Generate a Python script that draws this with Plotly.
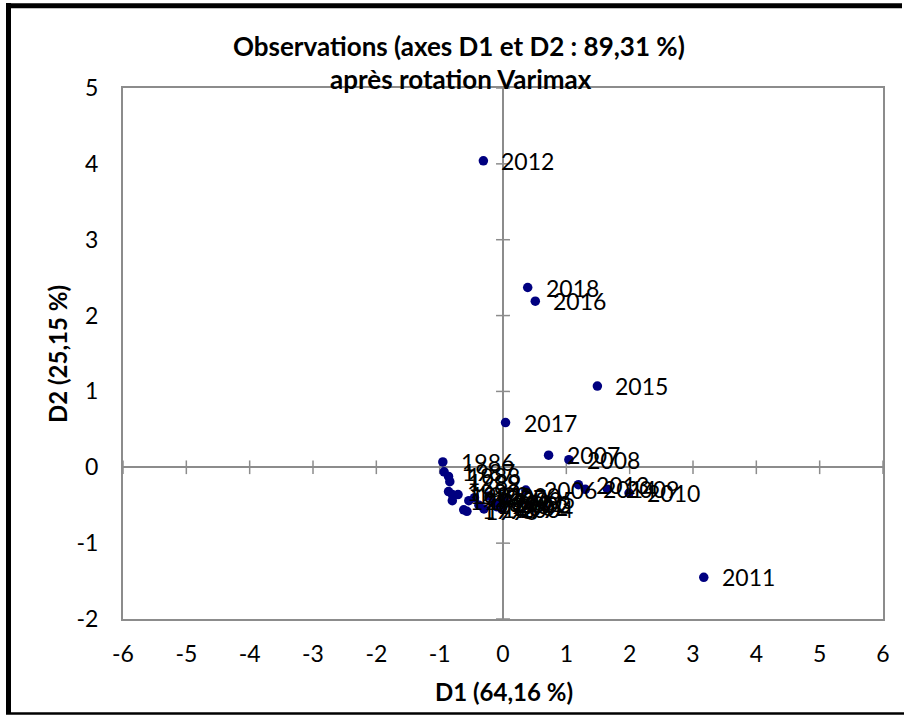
import plotly.graph_objects as go

# ---- data ----
years = [1986, 1987, 1988, 1989, 1990, 1991, 1992, 1993, 1994, 1995,
         1996, 1997, 1998, 1999, 2000, 2001, 2002, 2003, 2004, 2005,
         2006, 2007, 2008, 2009, 2010, 2011, 2012, 2013, 2014, 2015,
         2016, 2017, 2018]
d1 = [-0.95, -0.93, -0.86, -0.84, -0.86, -0.80, -0.71, -0.80, -0.54, -0.62,
      -0.57, -0.45, -0.38, -0.30, -0.22, -0.15, -0.10, -0.05, -0.02, 0.02,
      0.36, 0.72, 1.04, 1.65, 1.99, 3.17, -0.31, 1.19, 1.30, 1.49,
      0.51, 0.04, 0.39]
d2 = [0.07, -0.06, -0.12, -0.19, -0.32, -0.36, -0.36, -0.44, -0.44, -0.56,
      -0.58, -0.40, -0.50, -0.55, -0.38, -0.47, -0.52, -0.48, -0.55, -0.43,
      -0.30, 0.16, 0.10, -0.29, -0.34, -1.45, 4.04, -0.23, -0.29, 1.07,
      2.19, 0.59, 2.37]

x_ticks = [-6, -5, -4, -3, -2, -1, 0, 1, 2, 3, 4, 5, 6]
y_ticks = [-2, -1, 0, 1, 2, 3, 4, 5]

title_line1 = "Observations (axes D1 et D2 : 89,31 %)"
title_line2 = "après rotation Varimax"
x_title = "D1 (64,16 %)"
y_title = "D2 (25,15 %)"

FONT = "Lato"
AXIS_GREY = "#8c8c8c"
MARKER = "#000080"

W, H = 904, 715
L, R, T, B = 123, 883, 88, 619

def px2paper_x(px):
    return (px - L) / (R - L)

def px2paper_y(py):
    return (B - py) / (B - T)

fig = go.Figure()

# crossing tick marks on the zero axes
tx, ty = [], []
dx_tick = 0.11
dy_tick = 0.09
for v in x_ticks:
    tx += [v, v, None]
    ty += [-dy_tick, dy_tick, None]
for v in y_ticks:
    tx += [-dx_tick, dx_tick, None]
    ty += [v, v, None]
fig.add_trace(go.Scatter(x=tx, y=ty, mode="lines",
                         line=dict(color=AXIS_GREY, width=1.5),
                         hoverinfo="skip", showlegend=False))

fig.add_trace(go.Scatter(x=d1, y=d2, mode="markers",
                         marker=dict(color=MARKER, size=9.5),
                         text=[str(y) for y in years],
                         hoverinfo="text", showlegend=False))

annotations = []
for yr, a, b in zip(years, d1, d2):
    annotations.append(dict(x=a, y=b, xref="x", yref="y", text=str(yr),
                            showarrow=False, xanchor="left", yanchor="middle",
                            xshift=16, font=dict(family=FONT, size=23, color="black")))

annotations.append(dict(x=px2paper_x(459), y=px2paper_y(46), xref="paper", yref="paper",
                        text="<b>" + title_line1 + "</b>", showarrow=False,
                        xanchor="center", yanchor="middle",
                        font=dict(family=FONT, size=26, color="black")))
annotations.append(dict(x=px2paper_x(461), y=px2paper_y(79), xref="paper", yref="paper",
                        text="<b>" + title_line2 + "</b>", showarrow=False,
                        xanchor="center", yanchor="middle",
                        font=dict(family=FONT, size=26, color="black")))

annotations.append(dict(x=px2paper_x(504), y=px2paper_y(692), xref="paper", yref="paper",
                        text="<b>" + x_title + "</b>", showarrow=False,
                        xanchor="center", yanchor="middle",
                        font=dict(family=FONT, size=24, color="black")))
annotations.append(dict(x=px2paper_x(57), y=px2paper_y(354), xref="paper", yref="paper",
                        text="<b>" + y_title + "</b>", showarrow=False, textangle=-90,
                        xanchor="center", yanchor="middle",
                        font=dict(family=FONT, size=24, color="black")))

shapes = [
    # outer black frame (left, top, bottom)
    dict(type="line", xref="paper", yref="paper",
         x0=px2paper_x(8.5), x1=px2paper_x(8.5), y0=px2paper_y(3), y1=px2paper_y(714),
         line=dict(color="black", width=5)),
    dict(type="line", xref="paper", yref="paper",
         x0=px2paper_x(6), x1=px2paper_x(902), y0=px2paper_y(5.8), y1=px2paper_y(5.8),
         line=dict(color="black", width=5)),
    dict(type="line", xref="paper", yref="paper",
         x0=px2paper_x(6), x1=px2paper_x(904), y0=px2paper_y(713.5), y1=px2paper_y(713.5),
         line=dict(color="black", width=2.5)),
]

fig.update_layout(
    width=W, height=H,
    margin=dict(l=L, r=W - R, t=T, b=H - B, pad=0),
    paper_bgcolor="white", plot_bgcolor="white",
    showlegend=False,
    annotations=annotations,
    shapes=shapes,
    xaxis=dict(range=[-6, 6], tickvals=x_ticks, ticktext=[str(v) for v in x_ticks],
               showgrid=False, zeroline=True, zerolinecolor=AXIS_GREY, zerolinewidth=1.5,
               showline=True, linecolor=AXIS_GREY, linewidth=2, mirror=True,
               ticks="", ticklabelstandoff=13,
               tickfont=dict(family=FONT, size=23, color="black")),
    yaxis=dict(range=[-2, 5], tickvals=y_ticks, ticktext=[str(v) for v in y_ticks],
               showgrid=False, zeroline=True, zerolinecolor=AXIS_GREY, zerolinewidth=1.5,
               showline=True, linecolor=AXIS_GREY, linewidth=2, mirror=True,
               ticks="", ticklabelstandoff=18,
               tickfont=dict(family=FONT, size=23, color="black")),
)

fig.write_html("out.html")
